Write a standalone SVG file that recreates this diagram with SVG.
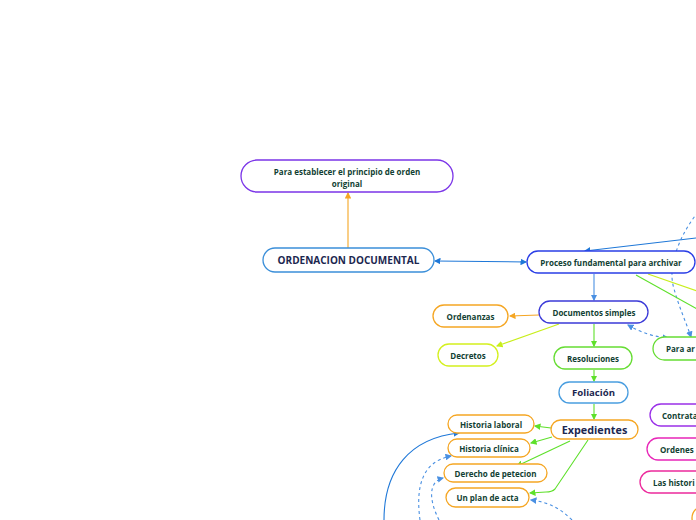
<svg xmlns="http://www.w3.org/2000/svg" width="696" height="520" viewBox="0 0 696 520">
<style>
.n rect{fill:#fff;stroke-width:1.3}
.t{font-family:"Open Sans","Noto Sans",sans-serif;font-weight:700;font-size:8px;fill:#123f33;text-anchor:middle;dominant-baseline:central}
.tl{text-anchor:start}
.b{fill:#1c2750}
.c{fill:none;stroke-width:1.1}
.d{stroke-dasharray:3 3}
</style>
<defs>
<marker id="ab" viewBox="0 0 6 6" refX="5" refY="3" markerWidth="6" markerHeight="6" orient="auto-start-reverse"><path d="M0,0L6,3L0,6z" fill="#1f78d8"/></marker>
<marker id="al" viewBox="0 0 6 6" refX="5" refY="3" markerWidth="6" markerHeight="6" orient="auto-start-reverse"><path d="M0,0L6,3L0,6z" fill="#4a90e2"/></marker>
<marker id="ao" viewBox="0 0 6 6" refX="5" refY="3" markerWidth="6" markerHeight="6" orient="auto"><path d="M0,0L6,3L0,6z" fill="#f5a623"/></marker>
<marker id="ag" viewBox="0 0 6 6" refX="5" refY="3" markerWidth="6" markerHeight="6" orient="auto"><path d="M0,0L6,3L0,6z" fill="#5ee02a"/></marker>
<marker id="ay" viewBox="0 0 6 6" refX="5" refY="3" markerWidth="6" markerHeight="6" orient="auto"><path d="M0,0L6,3L0,6z" fill="#c8ee1a"/></marker>
</defs>
<g id="connectors">
<path class="c" d="M348,248V193" stroke="#f5a623" marker-end="url(#ao)"/>
<path class="c" d="M435,261L526,262" stroke="#1f78d8" marker-start="url(#ab)" marker-end="url(#ab)"/>
<path class="c" d="M696,238L585,251" stroke="#1f78d8" marker-end="url(#ab)"/>
<path class="c d" d="M698,212C682,232 668,262 673,285C678,305 686,322 691,337" stroke="#4a90e2" marker-end="url(#al)"/>
<path class="c d" d="M628,325C642,333 655,337 668,338" stroke="#4a90e2" marker-start="url(#al)" marker-end="url(#al)"/>
<path class="c" d="M648,274L697,291" stroke="#c8ee1a"/>
<path class="c" d="M636,275L697,309" stroke="#5ee02a"/>
<path class="c" d="M594,274V300" stroke="#4a90e2" marker-end="url(#al)"/>
<path class="c" d="M539,315L510,316" stroke="#f5a623" marker-end="url(#ao)"/>
<path class="c" d="M559,324L497,346" stroke="#c8ee1a" marker-end="url(#ay)"/>
<path class="c" d="M594,324V346" stroke="#5ee02a" marker-end="url(#ag)"/>
<path class="c" d="M594,370V381" stroke="#5ee02a" marker-end="url(#ag)"/>
<path class="c" d="M594,404V419" stroke="#5ee02a" marker-end="url(#ag)"/>
<path class="c" d="M551,428L535,426" stroke="#5ee02a" marker-end="url(#ag)"/>
<path class="c" d="M552,437L531,443" stroke="#5ee02a" marker-end="url(#ag)"/>
<path class="c" d="M570,441L517,466" stroke="#5ee02a" marker-end="url(#ag)"/>
<path class="c" d="M588,440L555,489Q552,492 546,492L530,493" stroke="#5ee02a" marker-end="url(#ag)"/>
<path class="c" d="M384,520C384,470 410,438 459,433" stroke="#1f78d8" marker-end="url(#ab)"/>
<path class="c d" d="M420,520C416,490 420,462 451,456" stroke="#4a90e2" marker-end="url(#al)"/>
<path class="c d" d="M439,520C429,500 428,482 443,478" stroke="#4a90e2" marker-end="url(#al)"/>
<path class="c d" d="M572,520C560,508 548,502 531,500" stroke="#4a90e2" marker-end="url(#al)"/>
</g>
<g id="n1" class="n"><rect x="241" y="160" width="212" height="32" rx="16" stroke="#7b35e8"/><text class="t" x="347" y="171">Para establecer el principio de orden</text><text class="t" x="347" y="183">original</text></g>
<g id="n2" class="n"><rect x="263" y="248" width="171" height="24" rx="12" stroke="#3b8fd9"/><text class="t b" x="348.5" y="260" style="font-size:10px">ORDENACION DOCUMENTAL</text></g>
<g id="n3" class="n"><rect x="527" y="251" width="168" height="22" rx="11" stroke="#2a3ee6"/><text class="t" x="611" y="262">Proceso fundamental para archivar</text></g>
<g id="n4" class="n"><rect x="539" y="301" width="109" height="22" rx="11" stroke="#3b3ad8"/><text class="t" x="594" y="312">Documentos simples</text></g>
<g id="n5" class="n"><rect x="433" y="305" width="75" height="22" rx="11" stroke="#f5a623"/><text class="t" x="470.5" y="316">Ordenanzas</text></g>
<g id="n6" class="n"><rect x="438" y="344" width="60" height="22" rx="11" stroke="#d4f01e"/><text class="t" x="468" y="355">Decretos</text></g>
<g id="n7" class="n"><rect x="554" y="347" width="78" height="22" rx="11" stroke="#66dd33"/><text class="t" x="593" y="358">Resoluciones</text></g>
<g id="n8" class="n"><rect x="559" y="382" width="69" height="21" rx="10.5" stroke="#4a9ee0"/><text class="t b" x="593.5" y="392.5" style="font-size:9.6px">Foliación</text></g>
<g id="n9" class="n"><rect x="551" y="420" width="87" height="19" rx="9.5" stroke="#f5a623"/><text class="t b" x="594.5" y="429.5" style="font-size:10.8px">Expedientes</text></g>
<g id="n10" class="n"><rect x="448" y="415" width="86" height="18" rx="9" stroke="#f5a623"/><text class="t" x="491" y="424">Historia laboral</text></g>
<g id="n11" class="n"><rect x="448" y="439" width="82" height="18" rx="9" stroke="#f5a623"/><text class="t" x="489" y="448">Historia clínica</text></g>
<g id="n12" class="n"><rect x="444" y="464" width="103" height="18" rx="9" stroke="#f5a623"/><text class="t" x="495.5" y="473">Derecho de petecion</text></g>
<g id="n13" class="n"><rect x="446" y="488" width="83" height="19" rx="9.5" stroke="#f5a623"/><text class="t" x="487.5" y="497.5">Un plan de acta</text></g>
<g id="n14" class="n"><rect x="653" y="337" width="80" height="23" rx="11.5" stroke="#66dd33"/><text class="t tl" x="666" y="348.5">Para ar</text></g>
<g id="n15" class="n"><rect x="650" y="404" width="80" height="22" rx="11" stroke="#9a30e8"/><text class="t tl" x="662" y="415">Contrata</text></g>
<g id="n16" class="n"><rect x="647" y="438" width="80" height="22" rx="11" stroke="#e826b8"/><text class="t tl" x="660" y="449">Ordenes</text></g>
<g id="n17" class="n"><rect x="640" y="471" width="80" height="22" rx="11" stroke="#ec2a9c"/><text class="t tl" x="653" y="482">Las histori</text></g>
<g id="n18" class="n"><rect x="692" y="506" width="60" height="24" rx="12" stroke="#f5a623"/></g>
</svg>
